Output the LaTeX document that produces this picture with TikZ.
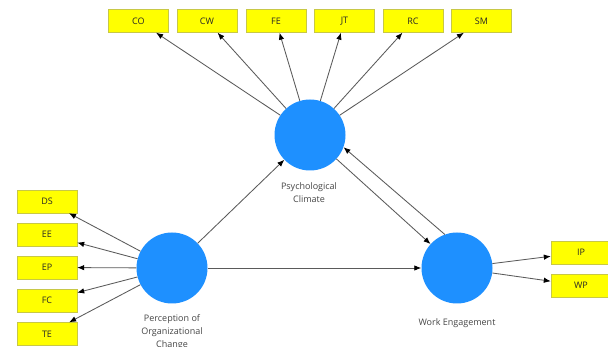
\documentclass[tikz,border=0pt]{standalone}
\usepackage{fontspec}
\setmainfont{Open Sans}
\usetikzlibrary{arrows.meta}
\definecolor{lvblue}{RGB}{30,144,255}
\definecolor{boxyel}{RGB}{255,255,0}
\definecolor{boxedge}{RGB}{200,200,70}
\definecolor{linegray}{RGB}{90,90,90}
\definecolor{labgray}{RGB}{70,70,70}
\begin{document}
\begin{tikzpicture}[x=1pt,y=-1pt,
  ind/.style={draw=boxedge, fill=boxyel, minimum width=60pt, minimum height=23pt, inner sep=0pt, font=\fontsize{9}{10}\selectfont, text=black!85},
  lv/.style={circle, fill=lvblue, minimum size=71pt, inner sep=0pt},
  lab/.style={align=center, font=\fontsize{9}{12.8}\selectfont, text=labgray},
  arr/.style={draw=linegray, line width=0.85pt, -{Latex[length=7pt,width=5.5pt,color=black]}}]
\useasboundingbox[fill=white] (0,0) rectangle (608,347);
% latent variables
\node[lv] (pc) at (310,135) {};
\node[lv] (poc) at (172,268) {};
\node[lv] (we) at (457,268) {};
\node[lab] (pcl) at (309,193) {Psychological\\Climate};
\node[lab] (pocl) at (172,332) {Perception of\\Organizational\\Change};
\node[lab] (wel) at (457,323) {Work Engagement};
% top indicators
\node[ind] (co) at (138.5,21) {CO};
\node[ind] (cw) at (207,21) {CW};
\node[ind] (fe) at (276,21) {FE};
\node[ind] (jt) at (344.5,21) {JT};
\node[ind] (rc) at (413,21) {RC};
\node[ind] (sm) at (481.5,21) {SM};
% left indicators
\node[ind] (ds) at (47,201.5) {DS};
\node[ind] (ee) at (47,234.5) {EE};
\node[ind] (ep) at (47,267.5) {EP};
\node[ind] (fc) at (47,300.5) {FC};
\node[ind] (te) at (47,334) {TE};
% right indicators
\node[ind] (ip) at (581,252.5) {IP};
\node[ind] (wp) at (581,285.5) {WP};
% connectors
\foreach \t in {co,cw,fe,jt,rc,sm} \draw[arr] (pc) -- (\t);
\foreach \t in {ds,ee,ep,fc,te} \draw[arr] (poc) -- (\t);
\foreach \t in {ip,wp} \draw[arr] (we) -- (\t);
\draw[arr] (poc) -- (pc);
\draw[arr] (poc) -- (we);
\draw[arr] (pc) -- (we);
\draw[arr] (we.110) -- (pc.-20);
\end{tikzpicture}
\end{document}
